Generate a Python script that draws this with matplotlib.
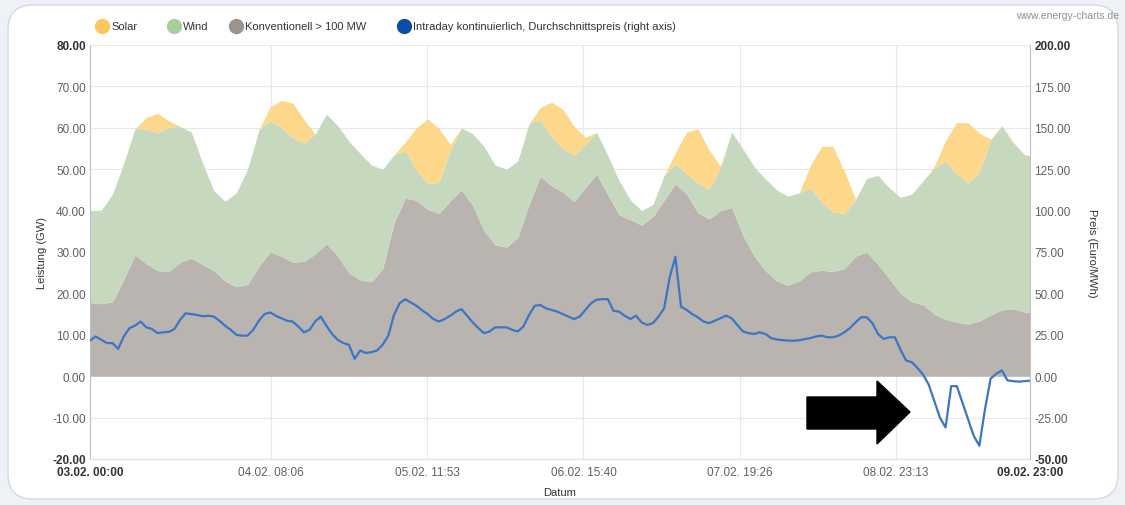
import numpy as np
import matplotlib.pyplot as plt
from matplotlib.lines import Line2D
from matplotlib.patches import FancyBboxPatch, Polygon

plt.rcParams['font.family'] = ['Liberation Sans', 'DejaVu Sans']

# hours since 03.02. 00:00, generation every 2 h (GW)
hours = np.arange(0, 169, 2)
conv = [17.8, 17.5, 18.0, 23.5, 29.3, 27.2, 25.5, 25.3, 27.5, 28.5,
        27.0, 25.5, 23.0, 21.6, 22.2, 26.5, 30.0, 29.0, 27.5, 27.8,
        29.5, 32.0, 29.0, 25.0, 23.3, 22.8, 26.0, 37.0, 43.0, 42.5,
        40.3, 39.3, 42.3, 45.0, 41.2, 35.2, 31.7, 31.2, 33.5, 41.5,
        48.3, 46.0, 44.5, 42.2, 45.5, 48.8, 43.8, 39.0, 37.8, 36.5,
        38.5, 42.5, 46.5, 44.0, 39.5, 38.0, 40.0, 40.8, 34.0, 29.0,
        25.5, 23.0, 22.0, 23.0, 25.2, 25.6, 25.3, 26.0, 29.0, 30.0,
        27.0, 23.5, 20.0, 18.0, 17.3, 15.0, 13.8, 13.0, 12.6, 13.3,
        14.8, 16.0, 16.3, 15.5, 15.3]
wind = [22.2, 22.6, 26.0, 28.0, 30.5, 32.5, 33.2, 34.9, 32.8, 30.5,
        24.5, 19.3, 19.3, 22.7, 27.8, 33.0, 31.7, 31.1, 30.1, 28.5,
        29.0, 31.3, 31.5, 31.8, 30.5, 28.2, 24.0, 16.5, 11.5, 7.3,
        6.3, 7.5, 12.2, 15.0, 17.3, 20.3, 19.3, 18.8, 18.5, 19.5,
        13.7, 11.8, 10.5, 11.2, 10.5, 10.1, 9.5, 8.2, 4.8, 3.5,
        3.0, 6.0, 4.8, 4.9, 7.1, 7.2, 10.2, 18.2, 20.9, 21.6,
        22.1, 22.0, 21.5, 21.3, 20.2, 16.4, 14.4, 13.3, 13.6, 17.8,
        21.5, 22.0, 23.2, 26.0, 29.9, 35.3, 38.2, 35.8, 34.1, 36.0,
        42.2, 44.5, 40.2, 38.0, 37.7]
solar = [0, 0, 0, 0, 0, 2.8, 4.8, 1.5, 0, 0,
         0, 0, 0, 0, 0, 0, 3.3, 6.5, 8.4, 5.7,
         0, 0, 0, 0, 0, 0, 0, 0, 2.0, 10.2,
         15.6, 13.0, 1.5, 0, 0, 0, 0, 0, 0, 0,
         2.9, 8.4, 9.5, 7.0, 1.7, 0, 0, 0, 0, 0,
         0, 0, 2.7, 10.1, 13.1, 9.4, 0.6, 0, 0, 0,
         0, 0, 0, 0, 5.6, 13.5, 15.8, 10.2, 0.2, 0,
         0, 0, 0, 0, 0, 0.4, 5.0, 12.5, 14.5, 9.4,
         0.3, 0, 0, 0, 0]

# intraday price, hourly (Euro/MWh)
price_hours = np.arange(0, 168)
price = [21.5, 24.0, 22.0, 20.0, 20.0, 16.5, 24.0, 29.0, 30.5, 33.0,
         29.5, 28.5, 26.0, 26.5, 26.8, 28.5, 34.0, 38.0, 37.5, 37.0,
         36.2, 36.5, 36.0, 33.5, 30.5, 28.0, 25.0, 24.5, 24.5, 28.0,
         33.5, 37.5, 38.5, 36.5, 35.0, 33.5, 33.0, 30.0, 26.5, 28.0,
         33.0, 36.0, 30.5, 25.5, 22.0, 20.0, 19.0, 10.5, 15.5, 14.0,
         14.5, 15.5, 19.0, 24.5, 37.0, 44.0, 46.5, 44.5, 42.5, 39.8,
         37.5, 34.5, 33.0, 34.5, 36.5, 39.0, 40.5, 36.5, 32.5, 29.0,
         26.0, 27.0, 29.5, 29.5, 29.5, 28.0, 27.0, 30.0, 37.0, 42.5,
         43.0, 41.0, 40.0, 39.0, 37.5, 36.0, 34.5, 36.0, 40.0, 44.0,
         46.2, 46.5, 46.5, 39.5, 39.0, 36.5, 34.5, 36.5, 32.5, 31.0,
         32.0, 36.0, 41.0, 60.0, 72.0, 42.0, 40.0, 37.5, 35.5, 33.0,
         32.0, 33.5, 35.0, 36.6, 35.0, 31.0, 27.0, 26.0, 25.5, 26.5,
         25.5, 23.0, 22.2, 21.8, 21.5, 21.4, 21.7, 22.4, 23.0, 24.0,
         24.5, 23.5, 23.5, 24.5, 26.5, 29.0, 32.5, 35.6, 35.6, 32.0,
         25.5, 22.5, 23.5, 23.5, 16.0, 9.4, 8.5, 5.0, 1.0, -5.0,
         -15.0, -25.0, -31.0, -6.0, -6.0, -16.0, -26.0, -36.0, -42.0, -20.0,
         -1.5, 1.5, 3.5, -2.5, -3.0, -3.3, -3.0, -2.7]

tick_hours = [0, 32.1, 59.883, 87.667, 115.433, 143.217, 167]
tick_labels = ['03.02. 00:00', '04.02. 08:06', '05.02. 11:53', '06.02. 15:40',
               '07.02. 19:26', '08.02. 23:13', '09.02. 23:00']
left_ticks = np.arange(-20, 81, 10)
right_ticks = np.arange(-50, 201, 25)

series_names = ['Solar', 'Wind', 'Konventionell > 100 MW',
                'Intraday kontinuierlich, Durchschnittspreis (right axis)']
legend_colors = ['#fdc75e', '#a9cf9c', '#9d938e', '#0d4ea3']

W, H = 1125, 506
fig = plt.figure(figsize=(W / 100, H / 100), dpi=100)
fig.patch.set_facecolor('#eef1f5')

# white rounded card
card = FancyBboxPatch((0.08, 0.06), 11.10, 4.94, boxstyle='round,pad=0,rounding_size=0.25',
                      transform=fig.dpi_scale_trans, facecolor='white',
                      edgecolor='#d5dae0', linewidth=1.0, zorder=-10)
fig.add_artist(card)

ax = fig.add_axes([90 / W, 1 - 460 / H, 940 / W, 414 / H])
ax.set_facecolor('white')

conv = np.array(conv)
wind = np.array(wind)
solar = np.array(solar)
ax.fill_between(hours, 0, conv, color='#bab4b1', lw=0)
ax.fill_between(hours, conv, conv + wind, color='#c6d9bf', lw=0)
ax.fill_between(hours, conv + wind, conv + wind + solar, color='#fdd88b', lw=0)

ax.set_xlim(0, 167)
ax.set_ylim(-20, 80)
ax.set_xticks(tick_hours, labels=tick_labels)
ax.set_yticks(left_ticks, labels=['%.2f' % v for v in left_ticks])
ax.set_axisbelow(True)
ax.grid(color='#e8e8e8', lw=0.8)
ax.tick_params(length=0, labelsize=8.5, labelcolor='#606060')
ax.tick_params(axis='x', pad=5)
ax.tick_params(axis='y', pad=3)
for lab in [ax.get_xticklabels()[0], ax.get_xticklabels()[-1],
            ax.get_yticklabels()[0], ax.get_yticklabels()[-1]]:
    lab.set_fontweight('bold')
    lab.set_color('#333333')

for s in ['top', 'right']:
    ax.spines[s].set_visible(False)
ax.spines['left'].set_color('#c0c0c0')
ax.spines['bottom'].set_color('#e0e0e0')

ax.set_ylabel('Leistung (GW)', fontsize=8, color='#333333')
ax.yaxis.set_label_coords(-0.046, 0.5)
ax.set_xlabel('Datum', fontsize=8, color='#333333')
ax.xaxis.set_label_coords(0.5, -0.068)

ax2 = ax.twinx()
ax2.plot(price_hours, price, color='#3b76c4', lw=1.6)
ax2.set_ylim(-50, 200)
ax2.set_yticks(right_ticks, labels=['%.2f' % v for v in right_ticks])
ax2.tick_params(length=0, labelsize=8.5, labelcolor='#606060', pad=3)
for lab in [ax2.get_yticklabels()[0], ax2.get_yticklabels()[-1]]:
    lab.set_fontweight('bold')
    lab.set_color('#333333')
for s in ['top', 'left', 'bottom']:
    ax2.spines[s].set_visible(False)
ax2.spines['right'].set_color('#c0c0c0')
ax2.set_ylabel('Preis (Euro/MWh)', fontsize=8, color='#333333', rotation=-90)
ax2.yaxis.set_label_coords(1.071, 0.5)

# legend row
legend_x = [102, 174, 236, 404]
for x, name, c in zip(legend_x, series_names, legend_colors):
    fig.add_artist(Line2D([x / W], [1 - 27 / H], marker='o', markersize=10, color=c,
                          linestyle='none', transform=fig.transFigure))
    fig.text((x + 9) / W, 1 - 27 / H, name, fontsize=8, color='#333333', va='center')

fig.text(1119 / W, 1 - 16 / H, 'www.energy-charts.de', fontsize=7.5, color='#909090',
         ha='right', va='center')

# black arrow pointing at the negative prices
arrow_px = [(807, 398), (877, 398), (877, 382), (910, 413), (877, 445), (877, 430), (807, 430)]
fig.add_artist(Polygon([(x / W, 1 - y / H) for x, y in arrow_px], closed=True,
                       facecolor='black', edgecolor='black', transform=fig.transFigure))

fig.savefig('out.png', dpi=100, facecolor=fig.get_facecolor())
